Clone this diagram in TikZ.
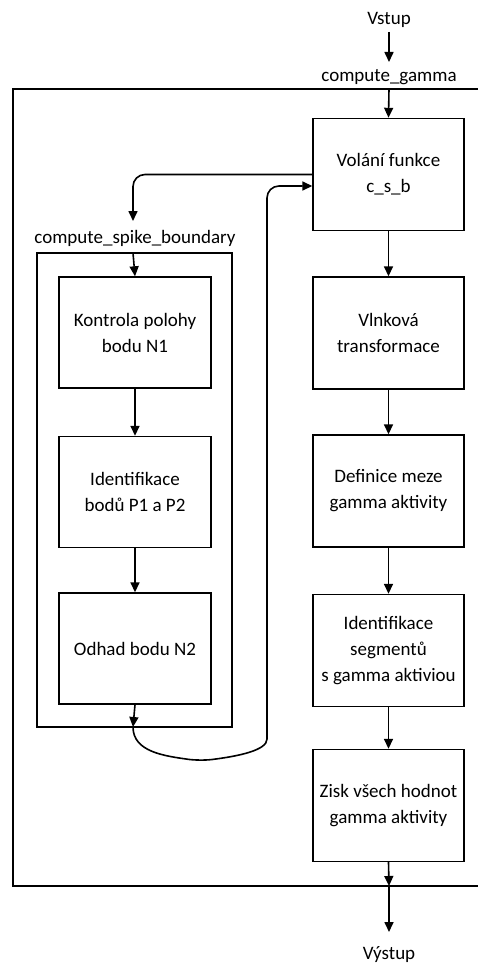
\documentclass[tikz,border=0pt]{standalone}
\usepackage{fontspec}
\setmainfont{Carlito}
\usetikzlibrary{arrows.meta}
\begin{document}
\begin{tikzpicture}[x=1pt,y=-1pt,
  box/.style={draw, line width=1.4pt, minimum width=151pt, minimum height=112pt,
    align=center, inner sep=0pt, font=\fontsize{19}{26}\selectfont},
  lbl/.style={font=\fontsize{19}{26}\selectfont, inner sep=0pt},
  arr/.style={line width=1.6pt, -{Triangle[length=10pt,width=9pt]}},
  frame/.style={draw, line width=1.4pt}]
\useasboundingbox (0,0) rectangle (477,963);
% frames
\draw[frame] (480,89) -- (13,89) -- (13,886) -- (480,886);
\draw[frame] (37,253) rectangle (232,727);
% right column
\node[box] (b1) at (388.5,174.5) {Volání funkce\\c\_s\_b};
\node[box] (b2) at (388.5,333) {Vlnková\\transformace};
\node[box] (b3) at (388.5,491) {Definice meze\\gamma aktivity};
\node[box] (b4) at (388.5,650.5) {Identifikace\\segmentů\\s gamma aktiviou};
\node[box] (b5) at (388.5,805.5) {Zisk všech hodnot\\gamma aktivity};
% left column
\node[box, minimum width=152pt, minimum height=111pt] (k1) at (135,332.5) {Kontrola polohy\\bodu N1};
\node[box, minimum width=152pt, minimum height=111pt] (k2) at (135,492) {Identifikace\\bodů P1 a P2};
\node[box, minimum width=152pt, minimum height=111pt] (k3) at (135,648.5) {Odhad bodu N2};
% labels
\node[lbl, anchor=base] (vstup) at (389,25) {Vstup};
\node[lbl, anchor=base] (cg) at (389,82) {compute\_gamma};
\node[lbl, anchor=base] (csb) at (135,243) {compute\_spike\_boundary};
\node[lbl, anchor=base] (vystup) at (389,959) {Výstup};
% coordinates
\coordinate (vin) at (389,32);
\coordinate (cgin) at (389,62);
\coordinate (ftop) at (389,89);
\coordinate (fbot) at (389,886);
\coordinate (vout) at (389,932);
\coordinate (ltip) at (133,221);
\coordinate (itop) at (133,253);
\coordinate (ibot) at (133,727);
% arrows right
\draw[arr] (vin) -- (cgin);
\draw[arr] (ftop) -- (b1.north);
\draw[arr] (b1.south) -- (b2.north);
\draw[arr] (b2.south) -- (b3.north);
\draw[arr] (b3.south) -- (b4.north);
\draw[arr] (b4.south) -- (b5.north);
\draw[arr] (b5.south) -- (fbot);
\draw[arr] (fbot) -- (vout);
% arrows left
\draw[arr, rounded corners=12pt] (b1.west) -- (133,174.5) -- (ltip);
\draw[arr] (itop) -- (k1.north);
\draw[arr] (k1.south) -- (k2.north);
\draw[arr] (k2.south) -- (k3.north);
\draw[arr] (k3.south) -- (ibot);
\draw[arr, rounded corners=12pt] (ibot) .. controls (133,752) and (165,756) .. (200,761)
  .. controls (240,756) and (267,750) .. (267,727) -- (267,186) -- (b1.west |- 0,186);
\end{tikzpicture}
\end{document}
